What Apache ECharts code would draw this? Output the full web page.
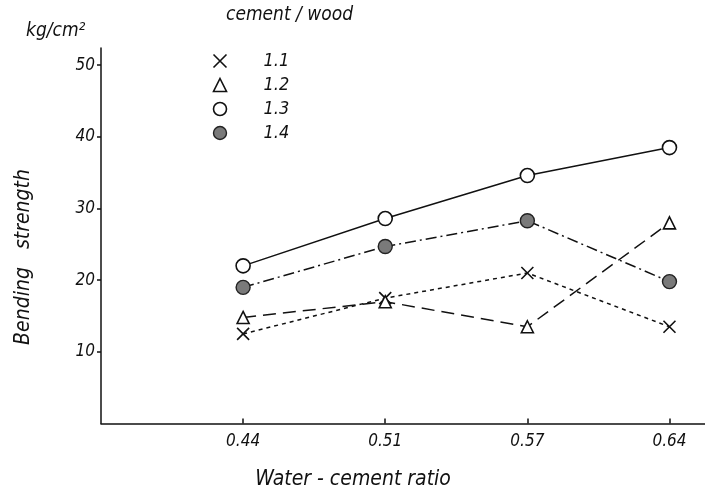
<!DOCTYPE html>
<html><head><meta charset="utf-8">
<script src="https://cdn.jsdelivr.net/npm/echarts@6/dist/echarts.min.js"></script>
<style>html,body{margin:0;background:#fff}#c{width:705px;height:495px}</style>
</head><body><div id="c"></div><script>
// Water-cement ratio categories (x axis) and bending strength (kg/cm²)
const ratioLabels = ['0.44', '0.51', '0.57', '0.64'];
const seriesNames = ['1.1', '1.2', '1.3', '1.4'];
const strength11 = [12.5, 17.5, 21.0, 13.5];
const strength12 = [14.8, 17.0, 13.5, 28.0];
const strength13 = [22.0, 28.6, 34.6, 38.5];
const strength14 = [19.0, 24.7, 28.3, 19.8];
const yTickValues = [10, 20, 30, 40, 50];

const FONT = '"DejaVu Sans Condensed", "DejaVu Sans", sans-serif';
const INK = '#111';
const crossPath = 'path://M0,0L10,10M10,0L0,10';

const pairs = arr => arr.map((v, i) => [i, v]);
const txt = (size) => ({ fontFamily: FONT, fontStyle: 'italic', fontSize: size, color: INK });

const chart = echarts.init(document.getElementById('c'), null, { renderer: 'canvas' });

const markerStyles = [
  { symbol: crossPath, symbolSize: 12, itemStyle: { color: 'none', borderColor: INK, borderWidth: 1.6 }, lineType: [4, 4] },
  { symbol: 'triangle', symbolSize: 12, itemStyle: { color: '#fff', borderColor: INK, borderWidth: 1.6 }, lineType: [13, 7] },
  { symbol: 'circle', symbolSize: 14, itemStyle: { color: '#fff', borderColor: INK, borderWidth: 1.6 }, lineType: 'solid' },
  { symbol: 'circle', symbolSize: 14, itemStyle: { color: '#7a7a7a', borderColor: '#222', borderWidth: 1.4 }, lineType: [11, 4, 2, 4] }
];
const values = [strength11, strength12, strength13, strength14];

chart.setOption({
  animation: false,
  backgroundColor: '#fff',
  grid: { left: 101, right: 0, top: 48, bottom: 71.5, containLabel: false },
  xAxis: {
    type: 'value', min: -1, max: 3.25,
    axisLine: { show: true, onZero: false, lineStyle: { color: INK, width: 1.5 } },
    axisTick: { show: true, inside: true, length: 5, customValues: [0, 1, 2, 3], lineStyle: { color: INK, width: 1.5 } },
    axisLabel: { customValues: [0, 1, 2, 3], margin: 10, formatter: v => ratioLabels[Math.round(v)] || '', ...txt(17) },
    splitLine: { show: false }
  },
  yAxis: {
    type: 'value', min: 0, max: 52.4,
    axisLine: { show: true, onZero: false, lineStyle: { color: INK, width: 1.5 } },
    axisTick: { show: true, length: 4, customValues: yTickValues, lineStyle: { color: INK, width: 1.5 } },
    axisLabel: { customValues: yTickValues, margin: 6, ...txt(17) },
    splitLine: { show: false }
  },
  legend: {
    orient: 'vertical', left: 206, top: 47, itemWidth: 13, itemHeight: 13, itemGap: 6,
    textStyle: { ...txt(18), padding: [0, 0, 0, 32] },
    data: seriesNames.map((n, i) => ({ name: n, icon: markerStyles[i].symbol, itemStyle: markerStyles[i].itemStyle }))
  },
  series: seriesNames.map((n, i) => ({
    name: n, type: 'line', data: pairs(values[i]),
    symbol: markerStyles[i].symbol, symbolSize: markerStyles[i].symbolSize,
    itemStyle: markerStyles[i].itemStyle,
    lineStyle: { color: INK, width: 1.5, type: markerStyles[i].lineType },
    z: 2 + i
  })),
  graphic: [
    { type: 'text', left: 26, top: 22, style: { text: 'kg/cm²', font: 'italic 19px ' + FONT, fill: INK } },
    { type: 'text', left: 226, top: 6, style: { text: 'cement / wood', font: 'italic 19px ' + FONT, fill: INK } },
    { type: 'text', x: 353, y: 480, style: { text: 'Water - cement ratio', font: 'italic 21px ' + FONT, fill: INK, align: 'center', verticalAlign: 'middle' } },
    { type: 'text', x: 24, y: 257, rotation: Math.PI / 2, style: { text: 'Bending   strength', font: 'italic 21px ' + FONT, fill: INK, align: 'center', verticalAlign: 'middle' } }
  ]
});
</script></body></html>
